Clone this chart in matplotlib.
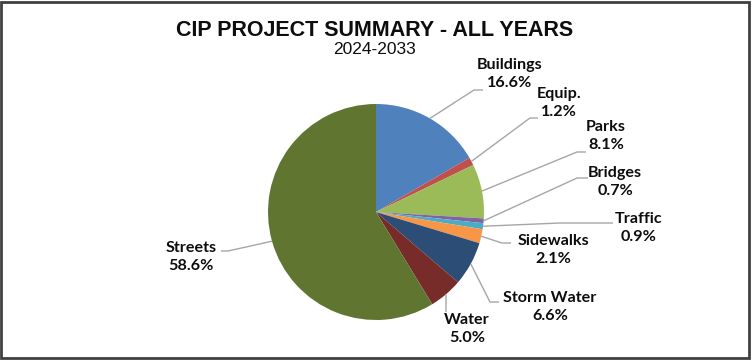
import numpy as np
import matplotlib.pyplot as plt
from matplotlib.patches import Rectangle

# chart data
categories = ['Buildings', 'Equip.', 'Parks', 'Bridges', 'Traffic',
              'Sidewalks', 'Storm Water', 'Water', 'Streets']
shares = [16.6, 1.2, 8.1, 0.7, 0.9, 2.1, 6.6, 5.0, 58.6]
pct_labels = ['16.6%', '1.2%', '8.1%', '0.7%', '0.9%',
              '2.1%', '6.6%', '5.0%', '58.6%']
colors = ['#4F81BD', '#C0504D', '#9BBB59', '#8064A2', '#4BACC6',
          '#F79646', '#2C4D75', '#772C2A', '#5F7530']

W, H = 752, 360


def py(y):
    # pixel row (from top) -> data y
    return H - y


# label layout in pixel coords: text centre, leader elbow, leader end
label_pos = [(510, 74), (559, 103), (606, 136), (615, 182), (639, 228),
             (553, 250), (550, 307), (467, 329), (191, 257)]
leader_pts = [
    [(474, 90), (483, 90)],
    [(530, 118), (538, 118)],
    [(577, 152), (586, 152)],
    [(577, 178), (588, 178)],
    [(560, 223), (613, 223)],
    [(502, 243), (511, 243)],
    [(490, 302), (499, 302)],
    [(446, 312)],
    [(228, 251), (221, 251)],
]

fig = plt.figure(figsize=(W / 100, H / 100), dpi=100)
ax = fig.add_axes([0, 0, 1, 1])

cx, cy, r = 376, 212, 108
wedges, _ = ax.pie(shares, colors=colors, startangle=90, counterclock=False,
                   center=(cx, py(cy)), radius=r,
                   wedgeprops=dict(linewidth=0))
ax.set_xlim(0, W)
ax.set_ylim(0, H)
ax.set_aspect('auto')
ax.axis('off')

lab_font = dict(family=['Lato', 'DejaVu Sans'], fontsize=11.6,
                fontweight='bold', color='#0d0d0d')
for w, name, pct, (tx, ty), pts in zip(wedges, categories, pct_labels,
                                        label_pos, leader_pts):
    ang = np.deg2rad((w.theta1 + w.theta2) / 2)
    sx = cx + r * np.cos(ang)
    sy = py(cy) + r * np.sin(ang)
    xs = [sx] + [p[0] for p in pts]
    ys = [sy] + [py(p[1]) for p in pts]
    ax.plot(xs, ys, color='#a6a6a6', lw=1.0, solid_capstyle='butt')
    ax.text(tx, py(ty), name + '\n' + pct, ha='center', va='center',
            linespacing=1.42, **lab_font)

ax.text(375, py(30), 'CIP PROJECT SUMMARY - ALL YEARS', ha='center',
        va='center', family='Liberation Sans', fontweight='bold',
        fontsize=15.5, color='#0d0d0d')
ax.text(375, py(49), '2024-2033', ha='center', va='center',
        family='Liberation Sans', fontsize=12.5, color='#0d0d0d')

# outer frame
fig.patches.append(Rectangle((1 / W, 2 / H), 748 / W, 356 / H,
                             transform=fig.transFigure, fill=False,
                             edgecolor='#404040', lw=2))

fig.savefig('out.png', dpi=100)
